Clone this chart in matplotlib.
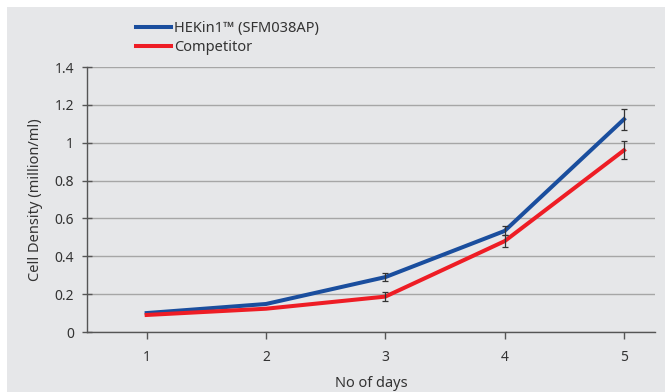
import matplotlib
matplotlib.use("Agg")
import matplotlib.pyplot as plt
from matplotlib.patches import Rectangle

days = [1, 2, 3, 4, 5]
hekin = [0.10, 0.148, 0.29, 0.534, 1.124]
hekin_err = [0, 0, 0.02, 0.024, 0.055]
competitor = [0.09, 0.123, 0.187, 0.48, 0.96]
competitor_err = [0, 0, 0.023, 0.03, 0.047]
yticks = [0, 0.2, 0.4, 0.6, 0.8, 1.0, 1.2, 1.4]
ytick_labels = ["0", "0.2", "0.4", "0.6", "0.8", "1", "1.2", "1.4"]

plt.rcParams['font.family'] = ['Noto Sans', 'DejaVu Sans']
txt = '#333333'
bg = '#e6e7e9'

fig = plt.figure(figsize=(6.65, 3.92), dpi=100, facecolor='white')
bgrect = Rectangle((7/665, 0), 1, 1 - 7/392, transform=fig.transFigure,
                   facecolor=bg, edgecolor='none', zorder=-10)
fig.patches.append(bgrect)
ax = fig.add_axes([87/665, 1 - 332/392, (655 - 87)/665, (332 - 67)/392])
ax.set_facecolor(bg)

ax.plot(days, hekin, color='#1a4e9e', lw=2.9, label='HEKin1™ (SFM038AP)', zorder=3)
ax.plot(days, competitor, color='#ee1d25', lw=2.9, label='Competitor', zorder=3)
for y, e in [(hekin, hekin_err), (competitor, competitor_err)]:
    xs = [d for d, ee in zip(days, e) if ee > 0]
    ys = [v for v, ee in zip(y, e) if ee > 0]
    es = [ee for ee in e if ee > 0]
    ax.errorbar(xs, ys, yerr=es, fmt='none', ecolor='#333333', elinewidth=0.9,
                capsize=2.2, capthick=0.9, zorder=4)

ax.set_xlim(0.5, 5.26)
ax.set_ylim(0, 1.4)
ax.set_yticks(yticks)
ax.set_yticklabels(ytick_labels)
ax.set_xticks(days)
ax.yaxis.grid(True, color='#a6a6a6', lw=1.0)
ax.set_axisbelow(True)
for s in ['top', 'right']:
    ax.spines[s].set_visible(False)
for s in ['left', 'bottom']:
    ax.spines[s].set_color('#555555')
    ax.spines[s].set_linewidth(1.0)
ax.tick_params(axis='y', direction='inout', length=7, width=1.0, color='#555555',
               labelcolor=txt, labelsize=10, pad=6)
ax.tick_params(axis='x', direction='out', length=5, width=1.0, color='#555555',
               labelcolor=txt, labelsize=10, pad=8)
ax.set_xlabel('No of days', color=txt, fontsize=10.5, labelpad=8)
ax.set_ylabel('Cell Density (million/ml)', color=txt, fontsize=10.5, labelpad=8)

leg = fig.legend(loc='upper left', bbox_to_anchor=(130/665, 1 - 15/392), frameon=False,
                 fontsize=10.5, handlelength=2.4, handletextpad=0.25, labelspacing=0.3,
                 borderaxespad=0)
for t in leg.get_texts():
    t.set_color(txt)

fig.savefig('out.png', dpi=100, facecolor='white')
